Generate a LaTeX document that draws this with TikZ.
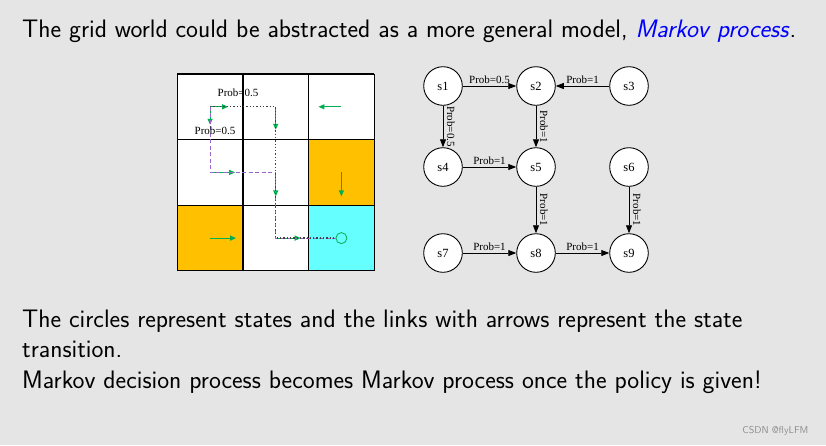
\documentclass[tikz,border=0pt]{standalone}
\usepackage{fontspec}
\newfontfamily\graphfont{Liberation Serif}
\usetikzlibrary{automata, positioning, arrows.meta}
\definecolor{slidebg}{RGB}{229,229,229}
\definecolor{policygreen}{RGB}{0,176,80}
\definecolor{routepurple}{RGB}{153,102,204}
\definecolor{forbidden}{RGB}{255,192,0}
\definecolor{target}{RGB}{102,255,255}
\tikzset{
x=1pt, y=-1pt, % one unit is one pixel of the slide, y grows downwards
>={Triangle[length=8pt,width=6pt]}, % filled heads like the graphviz output
node distance=93pt, % centre to centre distance of the states
every state/.style={fill=white, minimum size=38.6pt, inner sep=0pt, line width=0.9pt, font=\graphfont\fontsize{12.5}{12.5}\selectfont}, % the circles
plab/.style={font=\graphfont\fontsize{11}{11}\selectfont, inner sep=1.5pt}, % probability labels
link/.style={->, line width=0.9pt}, % state transitions
gridline/.style={line width=1.2pt}, % cell borders
policy/.style={policygreen, line width=1.2pt, -{Triangle[length=6pt,width=5pt]}}, % green action arrows
dotroute/.style={black!75, dotted, line width=1.3pt}, % first trajectory
dashroute/.style={routepurple, dash pattern=on 4pt off 2.5pt, line width=0.9pt}, % second trajectory
bodytext/.style={font=\sffamily\fontsize{25.3}{30.5}\selectfont, align=left, inner sep=0pt},
}
\begin{document}
\begin{tikzpicture}
\fill[slidebg] (0,0) rectangle (826,445);
\useasboundingbox (0,0) rectangle (826,445);

\node[bodytext, anchor=base west] (title) at (22,37) {The grid world could be abstracted as a more general model, \textcolor{blue}{\textit{Markov process}}.};

% grid world
\fill[white] (177.3,74) rectangle (374.2,270.9);
\fill[forbidden] (308.6,139.6) rectangle (374.2,205.3);
\fill[forbidden] (177.3,205.3) rectangle (242.9,270.9);
\fill[target] (308.6,205.3) rectangle (374.2,270.9);
\foreach \k in {0,...,3} {
  \draw[gridline] (177.3+65.63*\k,74) -- (177.3+65.63*\k,270.9);
  \draw[gridline] (177.3,74+65.63*\k) -- (374.2,74+65.63*\k);
}
\coordinate (c11) at (210.1,106.8);
\coordinate (c12) at (275.7,106.8);
\coordinate (c13) at (341.4,106.8);
\coordinate (c21) at (210.1,172.4);
\coordinate (c22) at (275.7,172.4);
\coordinate (c23) at (341.4,172.4);
\coordinate (c31) at (210.1,238.1);
\coordinate (c32) at (275.7,238.1);
\node[circle, draw=policygreen, line width=0.8pt, minimum size=11pt, inner sep=0pt] (goal) at (341.4,238.1) {};

\draw[policy] (c11) -- ++(18,0);
\draw[policy] (c11) -- ++(0,18);
\draw[policy] (c12) -- ++(0,23);
\draw[policy] (c13) -- ++(-23,0);
\draw[policy] (c21) -- ++(25,0);
\draw[policy] (c22) -- ++(0,24);
\draw[policy] (c23) -- ++(0,24);
\draw[policy] (c31) -- ++(26,0);
\draw[policy] (c32) -- ++(25,0);

\draw[dashroute] (c11) -- (c21) -- (c22) -- (c32) -- (goal);
\draw[dotroute] (c11) -- (c12) -- (c32) -- (goal);
\node[plab] (pright) at (238,93) {Prob=0.5};
\node[plab] (pdown) at (215,131) {Prob=0.5};

% markov process
\node[state] (s1) at (443,86) {s1};
\node[state, right of=s1] (s2) {s2};
\node[state, right of=s2] (s3) {s3};
\node[state, below of=s1, node distance=81pt] (s4) {s4};
\node[state, right of=s4] (s5) {s5};
\node[state, right of=s5] (s6) {s6};
\node[state, below of=s4, node distance=86pt] (s7) {s7};
\node[state, right of=s7] (s8) {s8};
\node[state, right of=s8] (s9) {s9};
\draw (s1) edge[link] node[plab, above] {Prob=0.5} (s2)
(s3) edge[link] node[plab, above] {Prob=1} (s2)
(s1) edge[link] node[plab, sloped, above=2pt] {Prob=0.5} (s4)
(s2) edge[link] node[plab, sloped, above=2pt] {Prob=1} (s5)
(s4) edge[link] node[plab, above] {Prob=1} (s5)
(s5) edge[link] node[plab, sloped, above=2pt] {Prob=1} (s8)
(s6) edge[link] node[plab, sloped, above=2pt] {Prob=1} (s9)
(s7) edge[link] node[plab, above] {Prob=1} (s8)
(s8) edge[link] node[plab, above] {Prob=1} (s9);

\node[bodytext, anchor=base west] (caption) at (22,388) {The circles represent states and the links with arrows represent the state\\transition.\\Markov decision process becomes Markov process once the policy is given!};
\node[font=\sffamily\fontsize{10}{10}\selectfont, text=black!45, anchor=base east] (mark) at (812,433) {CSDN @flyLFM};
\end{tikzpicture}
\end{document}
